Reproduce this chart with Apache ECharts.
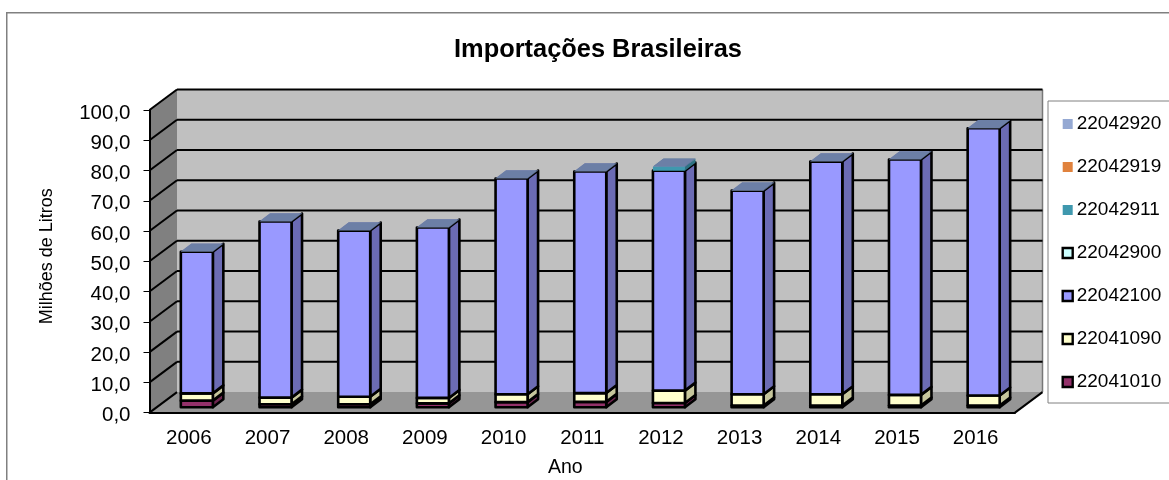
<!DOCTYPE html>
<html><head><meta charset="utf-8">
<style>html,body{margin:0;padding:0;background:#fff}#c{width:1169px;height:480px}</style>
<script src="https://cdn.jsdelivr.net/npm/echarts@6/dist/echarts.min.js"></script>
</head><body><div id="c"></div>
<script>
const years = ['2006','2007','2008','2009','2010','2011','2012','2013','2014','2015','2016'];
const yTicks = [0,10,20,30,40,50,60,70,80,90,100];
const s22041010 = [2.2,1.0,1.0,1.3,1.7,1.8,1.4,0.6,0.6,0.6,0.6];
const s22041090 = [2.4,2.2,2.5,1.8,2.6,2.9,4.1,3.7,3.7,3.5,3.3];
const s22042100 = [46.8,58.2,54.9,56.3,71.3,73.2,72.7,67.3,76.9,77.8,88.3];
const s22042900 = [0,0,0,0,0,0,0,0,0,0,0];
const s22042911 = [0,0,0,0,0,0,1.3,0,0,0,0];
const s22042919 = [0,0,0,0,0,0,0,0,0,0,0];
const s22042920 = [0.1,0.1,0.1,0.1,0.1,0.1,0.1,0.1,0.1,0.1,0.1];

const stack = [
  {name:'22041010', values:s22041010, color:'#93316a', side:'#6e2650', top:'#6e2650', border:true},
  {name:'22041090', values:s22041090, color:'#ffffcc', side:'#c6c69c', top:'#c6c69c', border:true},
  {name:'22042100', values:s22042100, color:'#9999ff', side:'#6b6bb4', top:'#6b6bb4', border:true},
  {name:'22042900', values:s22042900, color:'#ccffff', side:'#99bfbf', top:'#99bfbf', border:true},
  {name:'22042911', values:s22042911, color:'#3f98ae', side:'#2f7283', top:'#2f7283', border:false},
  {name:'22042919', values:s22042919, color:'#e0823d', side:'#a8622e', top:'#a8622e', border:false},
  {name:'22042920', values:s22042920, color:'#95a9d3', side:'#6c7fa6', top:'#6c7fa6', border:false}
];

// wall depth of the 3D box, and the bar's front/back planes inside it (px)
const WALL = [27.5,-20.5], BAR_F = [8,-5.3], BAR_B = [18.5,-13.3], BAR_W = 32;

function renderWalls(params, api){
  const b = api.size([1,0])[0];
  const x0 = api.coord([0,0])[0]-b/2, x1 = api.coord([years.length-1,0])[0]+b/2;
  const y0 = api.coord([0,0])[1], y1 = api.coord([0,100])[1];
  const dx = WALL[0], dy = WALL[1];
  const poly = (pts,fill,stroke,lw)=>({type:'polygon',shape:{points:pts},style:{fill,stroke:stroke||null,lineWidth:lw||0},silent:true});
  const line = (a,b,lw,c)=>({type:'line',shape:{x1:a[0],y1:a[1],x2:b[0],y2:b[1]},style:{stroke:c||'#000',lineWidth:lw},silent:true});
  const kids = [
    poly([[x0+dx,y1+dy],[x1+dx,y1+dy],[x1+dx,y0+dy],[x0+dx,y0+dy]],'#c0c0c0'),
    poly([[x0,y1],[x0+dx,y1+dy],[x0+dx,y0+dy],[x0,y0]],'#808080'),
    poly([[x0,y0],[x1,y0],[x1+dx,y0+dy],[x0+dx,y0+dy]],'#969696')
  ];
  kids.push(line([x1+dx,y1+dy],[x1+dx,y0+dy],1.5,'#777'));
  yTicks.forEach(v=>{
    const y = api.coord([0,v])[1];
    if(v>0) kids.push(line([x0+dx,y+dy],[x1+dx,y+dy],2));
    kids.push(line([x0,y],[x0+dx,y+dy],2));
  });
  kids.push(line([x1,y0],[x1+dx,y0+dy],2));
  return {type:'group',children:kids};
}

function makeRender(idx){
  const st = stack[idx];
  return function(params, api){
    const i = api.value(0), base = api.value(1), val = api.value(2);
    if(!val) return null;
    const c = api.coord([i,base]), t = api.coord([i,base+val]);
    const xl = c[0]+BAR_F[0]-BAR_W/2, xr = xl+BAR_W;
    const yb = c[1]+BAR_F[1], yt = t[1]+BAR_F[1];
    const ox = BAR_B[0]-BAR_F[0], oy = BAR_B[1]-BAR_F[1];
    const stroke = st.border ? '#000' : null, lw = st.border ? 2.6 : 0;
    return {type:'group',children:[
      {type:'polygon',shape:{points:[[xl,yt],[xr,yt],[xr+ox,yt+oy],[xl+ox,yt+oy]]},style:{fill:st.top,stroke:null}},
      {type:'polygon',shape:{points:[[xr,yb],[xr+ox,yb+oy],[xr+ox,yt+oy],[xr,yt]]},style:{fill:st.side,stroke,lineWidth:lw,lineJoin:'round'}},
      {type:'polygon',shape:{points:[[xl,yb],[xr,yb],[xr,yt],[xl,yt]]},style:{fill:st.color,stroke,lineWidth:lw,lineJoin:'round'}}
    ]};
  };
}

const FONT = '"Liberation Sans",Arial,sans-serif';
const series = [{
  type:'custom', name:'walls', silent:true, z:1, coordinateSystem:'cartesian2d',
  renderItem:renderWalls, data:[[0,0]], encode:{x:0,y:1}
}];
const running = years.map(()=>0);
stack.forEach((st,idx)=>{
  const data = st.values.map((v,i)=>{const d=[i,running[i],v]; running[i]+=v; return d;});
  series.push({type:'custom',name:st.name,z:3+idx,coordinateSystem:'cartesian2d',silent:true,
    itemStyle:{color:st.color},renderItem:makeRender(idx),data,encode:{x:0,y:[1,2]}});
});

const chart = echarts.init(document.getElementById('c'),null,{renderer:'canvas'});
chart.setOption({
  animation:false,
  backgroundColor:'#fff',
  textStyle:{fontFamily:FONT},
  title:{text:'Importações Brasileiras',left:593,top:32,textAlign:'center',
    textStyle:{fontFamily:FONT,fontSize:25.4,fontWeight:'bold',color:'#000'}},
  graphic:[{type:'rect',left:6,top:12,shape:{width:1300,height:600},z:-1,
    style:{fill:'#fff',stroke:'#808080',lineWidth:1.5},silent:true}],
  grid:{left:149.5,right:154,top:110,bottom:67.4,containLabel:false,outerBoundsMode:'none'},
  legend:{
    orient:'vertical',left:1048,top:101,padding:[13.5,60,11.5,13.5],itemGap:24,
    itemWidth:10,itemHeight:10,icon:'rect',selectedMode:false,align:'left',
    backgroundColor:'#fff',borderColor:'#808080',borderWidth:1,
    textStyle:{fontFamily:FONT,fontSize:19,color:'#000',padding:[0,0,0,-1]},
    data:stack.slice().reverse().map(s=>({name:s.name,icon:'rect',
      itemStyle:{color:s.color,borderColor:s.border?'#000':s.color,borderWidth:s.border?2.4:0}}))
  },
  xAxis:{type:'category',data:years,name:'Ano',nameLocation:'middle',nameGap:45,z:6,
    nameTextStyle:{fontFamily:FONT,fontSize:19.5,color:'#000',padding:[0,34,0,0]},
    axisLine:{lineStyle:{color:'#000',width:2}},
    axisTick:{alignWithLabel:false,length:6,lineStyle:{color:'#000',width:1}},
    axisLabel:{fontFamily:FONT,fontSize:20.5,color:'#000',margin:15,interval:0},
    splitLine:{show:false}},
  yAxis:{type:'value',min:0,max:100,interval:10,name:'Milhões de Litros',nameLocation:'middle',nameGap:93,nameRotate:90,z:6,
    nameTextStyle:{fontFamily:FONT,fontSize:18,color:'#000',padding:[0,0,0,10]},
    axisLine:{show:true,lineStyle:{color:'#000',width:2}},
    axisTick:{show:true,length:6,lineStyle:{color:'#000',width:1}},
    axisLabel:{margin:19,color:'#000',
      rich:{v:{fontFamily:FONT,fontSize:20.5,color:'#000',padding:[6,0,0,0]}},
      formatter:v=>'{v|'+v.toFixed(1).replace('.',',')+'}'},
    splitLine:{show:false}},
  series
});
</script></body></html>
